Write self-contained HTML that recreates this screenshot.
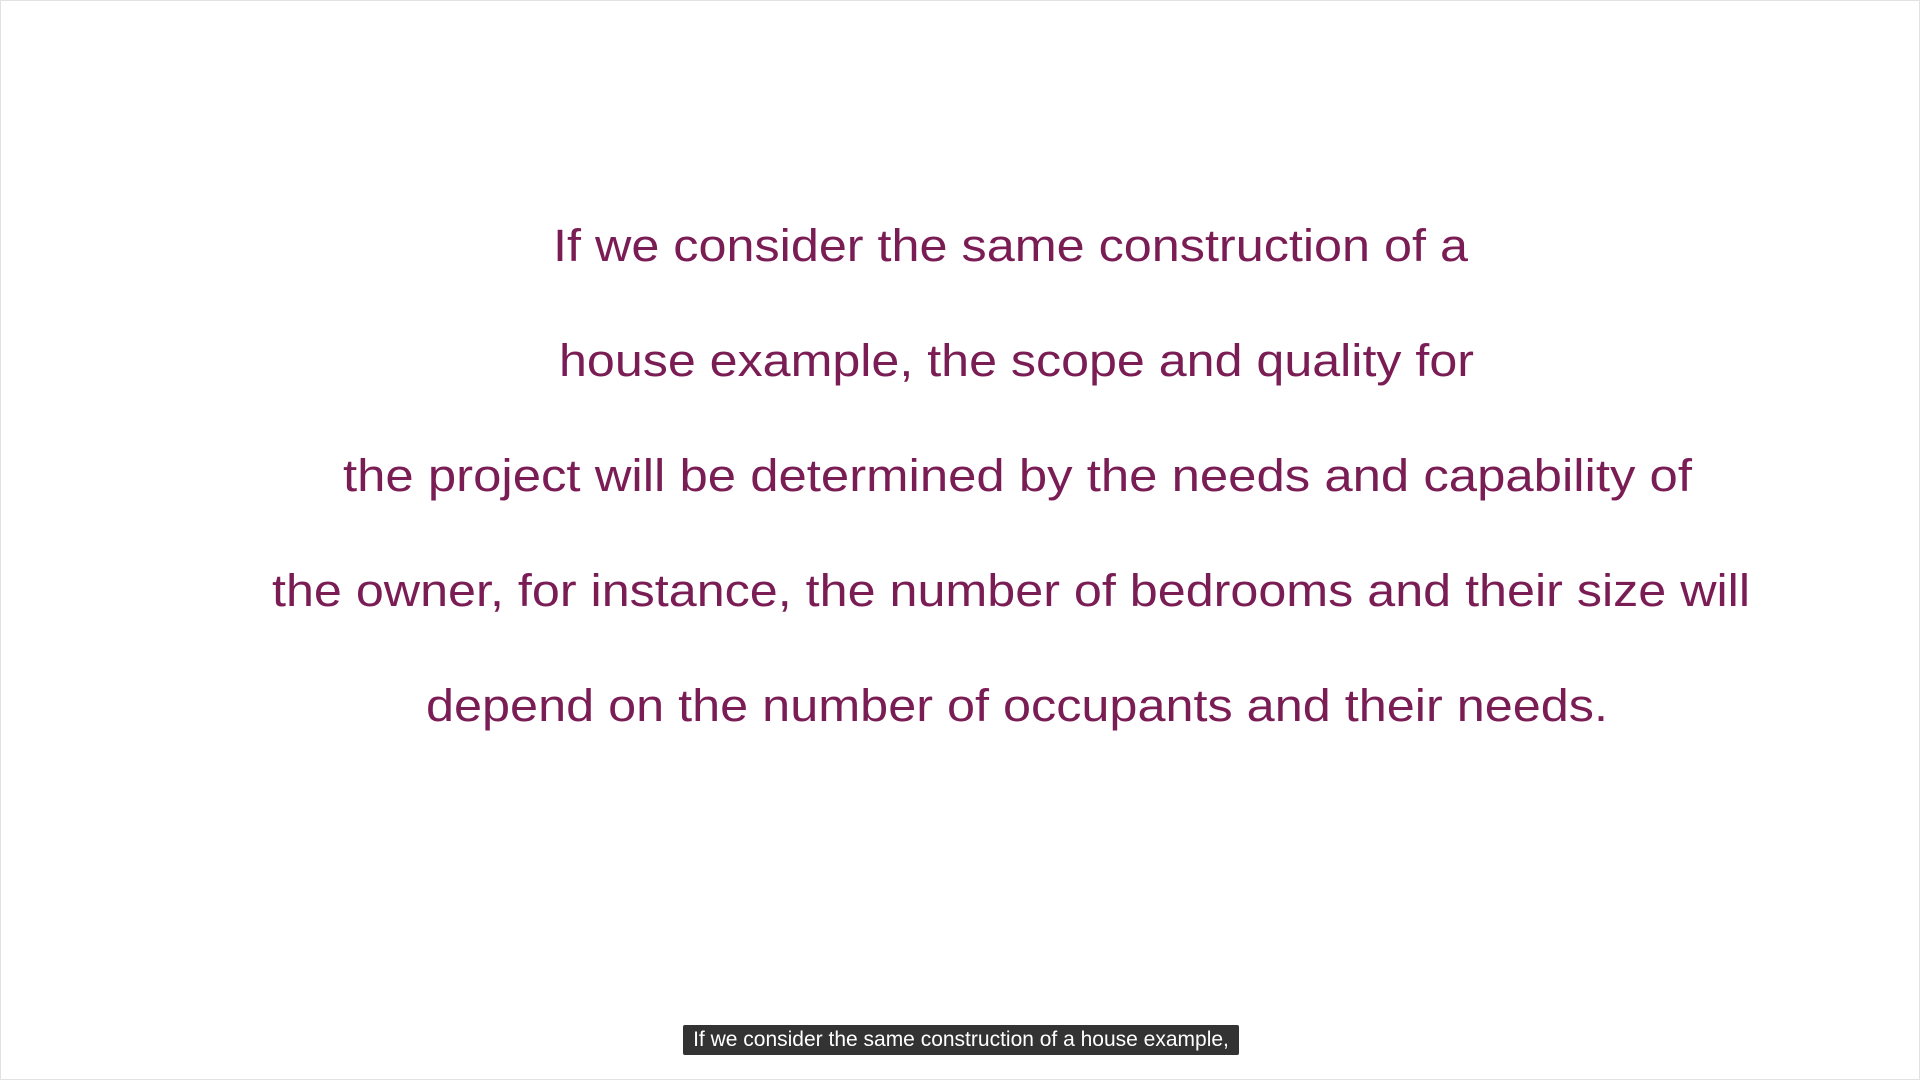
<!DOCTYPE html>
<html><head><meta charset="utf-8"><style>
html,body{margin:0;padding:0;background:#fff;}
#frame{position:absolute;left:0;top:0;width:1918px;height:1078px;border:1px solid #e2e2e2;background:#fff;overflow:hidden;}
svg{position:absolute;left:0;top:0;}
#caption{position:absolute;left:682px;top:1024px;width:556px;height:30px;background:#333;color:#fff;font-family:"Liberation Sans",sans-serif;font-size:21px;line-height:30px;text-align:center;border-radius:2px;white-space:nowrap;}
</style></head><body>
<div id="frame">
<svg width="1920" height="1080">
<g font-family="Liberation Sans, sans-serif" font-size="45" fill="#7b1d55">
<text x="552" y="260" textLength="915" lengthAdjust="spacingAndGlyphs">If we consider the same construction of a</text>
<text x="558" y="375" textLength="915" lengthAdjust="spacingAndGlyphs">house example, the scope and quality for</text>
<text x="342" y="490" textLength="1349" lengthAdjust="spacingAndGlyphs">the project will be determined by the needs and capability of</text>
<text x="271" y="605" textLength="1478" lengthAdjust="spacingAndGlyphs">the owner, for instance, the number of bedrooms and their size will</text>
<text x="425" y="720" textLength="1182" lengthAdjust="spacingAndGlyphs">depend on the number of occupants and their needs.</text>
</g>
</svg>
<div id="caption">If we consider the same construction of a house example,</div>
</div>
</body></html>
